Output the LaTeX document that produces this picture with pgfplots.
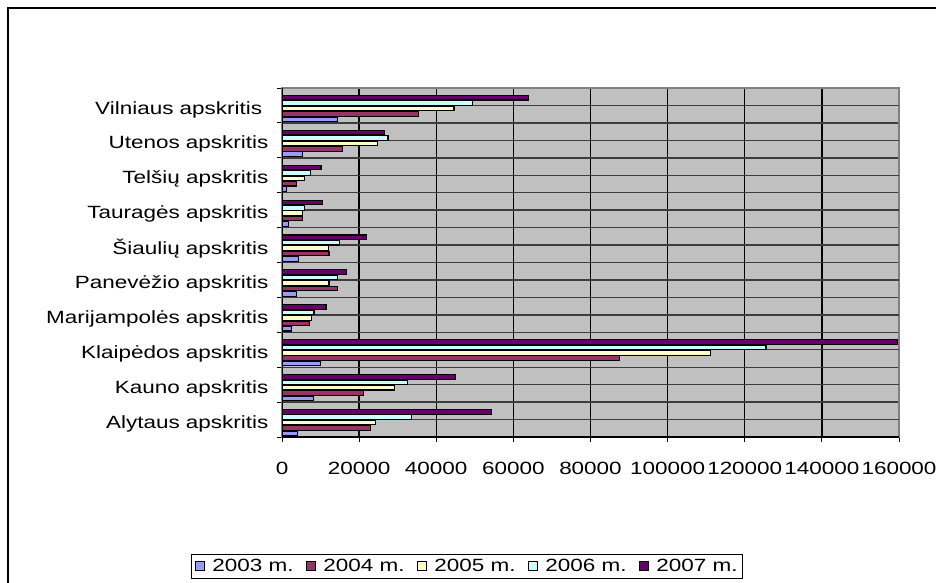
\documentclass[border=0pt]{standalone}
\usepackage{pgfplots}
\pgfplotsset{compat=1.18}
\usepackage{fontspec}
\setmainfont{Liberation Sans}
\usepackage{graphicx}
% wide Arial-like lettering
\newcommand\W[1]{\scalebox{1.27}[1]{#1}}
\definecolor{cA}{HTML}{9999FF}
\definecolor{cB}{HTML}{993366}
\definecolor{cC}{HTML}{FFFFCC}
\definecolor{cD}{HTML}{CCFFFF}
\definecolor{cE}{HTML}{660066}
\definecolor{wall}{HTML}{C0C0C0}
\definecolor{gridd}{HTML}{3C3C3C}
\newcommand\lbl{\fontsize{17.7}{20}\selectfont}

\begin{document}
\begin{tikzpicture}[x=1pt,y=1pt]
\clip (0,0) rectangle (936,582);
\fill[white] (0,0) rectangle (936,582);
% chart frame
\draw[black, line width=1.6pt] (8,-10) -- (8,574) -- (950,574);
\begin{axis}[
  at={(282pt,145pt)}, anchor=south west,
  width=617pt, height=349pt, scale only axis,
  xbar, bar width=4.6pt,
  xmin=0, xmax=160000, ymin=-0.5, ymax=9.5,
  axis background/.style={fill=wall},
  axis line style={draw=gray, line width=1.2pt},
  xtick={0,20000,40000,60000,80000,100000,120000,140000,160000},
  scaled x ticks=false,
  xticklabel={\W{\pgfmathprintnumber[assume math mode=true, fixed, precision=0, 1000 sep={}]{\tick}}},
  xticklabel style={yshift=-17pt},
  ytick={-0.5,0.5,...,9.5},
  yticklabels={},
  extra y ticks={0,1,2,3,4,5,6,7,8,9},
  extra y tick labels={
    \W{Alytaus apskritis},\W{Kauno apskritis},\W{Klaipėdos apskritis},
    \W{Marijampolės apskritis},\W{Panevėžio apskritis},\W{Šiaulių apskritis},
    \W{Tauragės apskritis},\W{Telšių apskritis},\W{Utenos apskritis},
    \W{Vilniaus apskritis\ }},
  extra y tick style={grid=major, major tick length=0pt,
    yticklabel style={anchor=east, xshift=-10pt, yshift=-4pt}},
  tick label style={font=\lbl},
  tick align=outside, major tick length=5pt,
  xtick pos=bottom, ytick pos=left,
  tick style={black, line width=1pt},
  xmajorgrids, ymajorgrids,
  x grid style={black, line width=1.4pt},
  y grid style={gridd, line width=1.4pt},
  legend columns=5,
  legend style={at={(0.30,-0.37)}, anchor=center, draw=black, line width=1pt,
    font=\lbl, inner sep=3pt,
    /tikz/every odd column/.append style={column sep=6pt},
    /tikz/every even column/.append style={column sep=10pt}},
  legend image code/.code={\draw[#1, draw=black, line width=0.8pt] (0pt,-4.5pt) rectangle (9pt,4.5pt);},
  every axis plot/.append style={draw=black, line width=1.1pt},
]
% order of categories: Alytaus, Kauno, Klaipedos, Marijampoles, Panevezio,
% Siauliu, Taurages, Telsiu, Utenos, Vilniaus
\addplot[fill=cA, bar shift=-13.8pt] coordinates {
  (4000,0) (8200,1) (10000,2) (2500,3) (3700,4) (4200,5) (1600,6) (1100,7) (5300,8) (14300,9)};
\addplot[fill=cB, bar shift=-8.4pt] coordinates {
  (23000,0) (21200,1) (87500,2) (7100,3) (14300,4) (12200,5) (5300,6) (3700,7) (15600,8) (35500,9)};
\addplot[fill=cC, bar shift=-3pt] coordinates {
  (24200,0) (29100,1) (111000,2) (7600,3) (12200,4) (12000,5) (5300,6) (5800,7) (24700,8) (44600,9)};
\addplot[fill=cD, bar shift=2.4pt] coordinates {
  (33500,0) (32600,1) (125500,2) (8300,3) (14300,4) (15000,5) (5800,6) (7500,7) (27500,8) (49300,9)};
\addplot[fill=cE, bar shift=7.8pt] coordinates {
  (54300,0) (45000,1) (159500,2) (11400,3) (16800,4) (22000,5) (10400,6) (10100,7) (26500,8) (64000,9)};
\legend{\W{2003 m.},\W{2004 m.},\W{2005 m.},\W{2006 m.},\W{2007 m.}}
\draw[black, line width=1.2pt] (rel axis cs:0,1) -- (rel axis cs:0,0) -- (rel axis cs:1,0);
\end{axis}
\end{tikzpicture}
\end{document}
